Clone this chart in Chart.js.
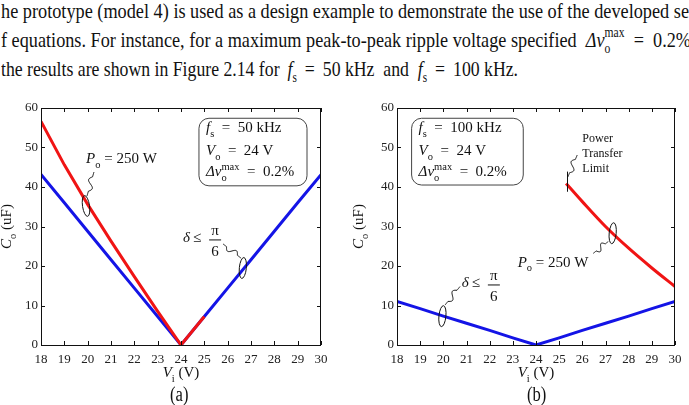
<!DOCTYPE html>
<html>
<head>
<meta charset="utf-8">
<title>Figure 2.14</title>
<script src="https://cdn.jsdelivr.net/npm/chart.js"></script>
<style>
    html, body {
        margin: 0;
        padding: 0;
        width: 689px;
        height: 405px;
        overflow: hidden;
        background: #fff;
    }
    body {
        position: relative;
        font-family: "Liberation Serif", serif;
        color: #111;
    }
    .line {
        position: absolute;
        left: 1px;
        font-size: 22px;
        line-height: 22px;
        white-space: nowrap;
        transform-origin: 0 0;
    }
    .sb { position: relative; top: 6px; font-size: 14px; }
    .sp { position: relative; top: -10px; font-size: 14px; }
    #l1 { top: 0px; }
    #l2 { top: 29px; }
    #l3 { top: 58px; }
    canvas { position: absolute; top: 95px; }
    #chartA { left: 0; }
    #chartB { left: 346px; }
    .cap { position: absolute; top: 384px; font-size: 20px; line-height: 20px; transform-origin: 0 0; }
</style>
</head>
<body>
<div class="line" id="l1">he prototype (model 4) is used as a design example to demonstrate the use of the developed se</div>
<div class="line" id="l2">f equations. For instance, for a maximum peak-to-peak ripple voltage specified &nbsp;<i>Δv</i><span class="sb">o</span><span class="sp" style="margin-left:-7px">max</span>&ensp;=&ensp;0.2%</div>
<div class="line" id="l3">the results are shown in Figure 2.14 for &thinsp;<i>f</i><span class="sb">s</span>&nbsp;&thinsp;=&thinsp;&nbsp;50 kHz&nbsp; and&nbsp; <i>f</i><span class="sb">s</span>&nbsp;&thinsp;=&thinsp;&nbsp;100 kHz.</div>

<canvas id="chartA" width="345" height="300"></canvas>
<canvas id="chartB" width="343" height="300"></canvas>

<div class="cap" style="left:170px">(a)</div>
<div class="cap" style="left:527px">(b)</div>

<script>
// input voltage Vi (V)
const vi = [18, 19, 20, 21, 22, 23, 24, 25, 26, 27, 28, 29, 30];

// (a) fs = 50 kHz : Co (uF)
const coDeltaA = [43.2, 36.0, 28.8, 21.6, 14.4, 7.2, 0, 7.2, 14.4, 21.6, 28.8, 36.0, 43.1];
const viPowerA = [18, 19, 20, 21, 22, 23, 24, 25];
const coPowerA = [56.6, 45.6, 35.6, 26.3, 17.3, 8.5, 0, 7.2];

// (b) fs = 100 kHz : Co (uF)
const coDeltaB = [11.0, 9.2, 7.3, 5.5, 3.7, 1.8, 0, 1.8, 3.7, 5.5, 7.3, 9.2, 11.0];
const viPowerB = [25.3, 26, 27, 28, 29, 30];
const coPowerB = [40.9, 36.3, 30.0, 24.5, 19.5, 14.8];

const RED = '#f01414';
const BLUE = '#1414e6';
const SERIF = '"Liberation Serif", serif';
const EN = '\u2002';

// squeeze the paragraph lines to the widths they have in the scan
(function () {
    const l1 = document.getElementById('l1');
    const s = 688 / l1.getBoundingClientRect().width;
    const widths = { l1: 688, l2: 690, l3: 517 };
    Object.keys(widths).forEach(id => {
        const el = document.getElementById(id);
        el.style.transform = 'scaleX(' + (widths[id] / el.getBoundingClientRect().width) + ')';
    });
    document.querySelectorAll('.cap').forEach(el => {
        el.style.transform = 'scaleX(' + s + ')';
    });
})();

// draw a run of math pieces: {t, i: italic, s: 'b' sub / 'p' sup, back: overlay on previous}
function runMath(ctx, parts, x, y, size, draw) {
    let cx = x, prev = x;
    for (const p of parts) {
        let fs = size, dy = 0;
        if (p.s === 'b') { fs = size * 0.7; dy = size * 0.3; }
        if (p.s === 'p') { fs = size * 0.7; dy = -size * 0.45; }
        ctx.font = (p.i ? 'italic ' : '') + fs + 'px ' + SERIF;
        const start = p.back ? prev : cx;
        if (draw) ctx.fillText(p.t, start, y + dy);
        const w = ctx.measureText(p.t).width;
        prev = start;
        cx = Math.max(cx, start + w);
    }
    return cx - x;
}

function squiggle(ctx, x1, y1, x2, y2, amp) {
    const dx = x2 - x1, dy = y2 - y1, len = Math.hypot(dx, dy);
    const nx = -dy / len, ny = dx / len;
    ctx.beginPath();
    ctx.moveTo(x1, y1);
    for (let k = 1; k <= 40; k++) {
        const t = k / 40;
        const w = (t > 0.2 && t < 0.8) ? Math.sin((t - 0.2) / 0.6 * 2 * Math.PI) * amp : 0;
        ctx.lineTo(x1 + dx * t + nx * w, y1 + dy * t + ny * w);
    }
    ctx.stroke();
}

function roundBox(ctx, x0, y0, x1, y1, r) {
    ctx.beginPath();
    ctx.moveTo(x0 + r, y0);
    ctx.arcTo(x1, y0, x1, y1, r);
    ctx.arcTo(x1, y1, x0, y1, r);
    ctx.arcTo(x0, y1, x0, y0, r);
    ctx.arcTo(x0, y0, x1, y0, r);
    ctx.closePath();
    ctx.fillStyle = '#fff';
    ctx.fill();
    ctx.stroke();
}

function deltaLabel(ctx, x, barY, size) {
    ctx.fillStyle = '#111';
    let w = runMath(ctx, [{ t: 'δ', i: 1 }], x, barY + 2, size, true);
    ctx.font = size + 'px ' + SERIF;
    ctx.fillText('≤', x + w + 3, barY + 2);
    const fx = x + 32;
    ctx.textAlign = 'center';
    ctx.fillText('π', fx, barY - 5);
    ctx.fillText('6', fx, barY + 16);
    ctx.textAlign = 'left';
    ctx.beginPath();
    ctx.moveTo(fx - 6, barY);
    ctx.lineTo(fx + 6, barY);
    ctx.lineWidth = 1;
    ctx.stroke();
}

const boxLines = fs => [
    [{ t: 'f', i: 1 }, { t: 's', s: 'b' }, { t: EN + '=' + EN + fs + ' kHz' }],
    [{ t: 'V', i: 1 }, { t: 'o', s: 'b' }, { t: EN + '=' + EN + '24 V' }],
    [{ t: 'Δv', i: 1 }, { t: 'o', s: 'b' }, { t: 'max', s: 'p', back: 1 }, { t: EN + '=' + EN + '0.2%' }]
];

// annotation layout, in data coordinates
const notes = {
    chartA: {
        yTitleX: 11,
        box: { x0: 24.77, x1: 29.4, y0: 57.4, y1: 40.3, lines: boxLines(50) },
        power: { x: 19.93, y: 47.3 },
        squig: [[20.27, 43.8, 19.97, 37.7], [25.8, 25.6, 26.57, 22.0]],
        ellipses: [[19.93, 35.2, -0.15], [26.65, 19.5, 0.1]],
        delta: { x: 24.09, y: 26.6 }
    },
    chartB: {
        yTitleX: 17,
        box: { x0: 18.63, x1: 23.45, y0: 57.4, y1: 40.5, lines: boxLines(100) },
        power: { x: 23.21, y: 21.1 },
        squig: [[26.47, 23.2, 27.12, 26.2], [20.72, 14.8, 20.07, 10.1], [25.78, 48.1, 25.37, 42.5]],
        ellipses: [[27.31, 28.3, 0.1], [19.96, 7.3, 0.1]],
        delta: { x: 20.8, y: 15.2 },
        limit: { x: 25.32, y0: 43.9, y1: 38.8, tx: 26.0, ty: [52.3, 48.4, 44.5], text: ['Power', 'Transfer', 'Limit'] }
    }
};

const figDecor = {
    id: 'figDecor',
    afterDraw(chart) {
        const ctx = chart.ctx;
        const a = chart.chartArea;
        const xs = chart.scales.x, ys = chart.scales.y;
        const n = notes[chart.canvas.id];
        ctx.save();
        ctx.strokeStyle = '#111';
        ctx.fillStyle = '#111';
        ctx.lineWidth = 1;

        // frame with inward ticks
        ctx.strokeRect(a.left + 0.5, a.top + 0.5, a.right - a.left - 1, a.bottom - a.top);
        ctx.beginPath();
        xs.ticks.forEach(t => {
            const px = Math.round(xs.getPixelForValue(t.value)) + 0.5;
            ctx.moveTo(px, a.bottom); ctx.lineTo(px, a.bottom - 4);
            ctx.moveTo(px, a.top); ctx.lineTo(px, a.top + 4);
        });
        ys.ticks.forEach(t => {
            const py = Math.round(ys.getPixelForValue(t.value)) + 0.5;
            ctx.moveTo(a.left, py); ctx.lineTo(a.left + 4, py);
            ctx.moveTo(a.right, py); ctx.lineTo(a.right - 4, py);
        });
        ctx.stroke();

        const X = v => xs.getPixelForValue(v);
        const Y = v => ys.getPixelForValue(v);

        // axis titles
        const xt = [{ t: 'V', i: 1 }, { t: 'i', s: 'b' }, { t: ' (V)' }];
        const xw = runMath(ctx, xt, 0, 0, 15, false);
        runMath(ctx, xt, (a.left + a.right) / 2 - xw / 2, a.bottom + 32, 15, true);
        const yt = [{ t: 'C', i: 1 }, { t: 'o', s: 'b' }, { t: ' (uF)' }];
        const yw = runMath(ctx, yt, 0, 0, 15, false);
        ctx.save();
        ctx.translate(n.yTitleX, (a.top + a.bottom) / 2);
        ctx.rotate(-Math.PI / 2);
        runMath(ctx, yt, -yw / 2, 0, 15, true);
        ctx.restore();

        // parameter box
        const b = n.box;
        ctx.strokeStyle = '#444';
        roundBox(ctx, X(b.x0), Y(b.y0), X(b.x1), Y(b.y1), 10);
        ctx.fillStyle = '#111';
        [14, 37, 58].forEach((dy, i) => runMath(ctx, b.lines[i], X(b.x0) + 7, Y(b.y0) + dy, 15, true));

        // squiggles and ellipses
        ctx.strokeStyle = '#111';
        ctx.lineWidth = 1;
        n.squig.forEach(s => squiggle(ctx, X(s[0]), Y(s[1]), X(s[2]), Y(s[3]), 3));
        n.ellipses.forEach(e => {
            ctx.beginPath();
            ctx.ellipse(X(e[0]), Y(e[1]), 3.5, 10.5, e[2], 0, 2 * Math.PI);
            ctx.stroke();
        });

        runMath(ctx, [{ t: 'P', i: 1 }, { t: 'o', s: 'b' }, { t: ' = 250 W' }], X(n.power.x), Y(n.power.y) + 5, 15, true);
        deltaLabel(ctx, X(n.delta.x), Y(n.delta.y), 15);

        if (n.limit) {
            const L = n.limit;
            ctx.beginPath();
            ctx.moveTo(Math.round(X(L.x)) + 0.5, Y(L.y0));
            ctx.lineTo(Math.round(X(L.x)) + 0.5, Y(L.y1));
            ctx.stroke();
            ctx.font = '12px ' + SERIF;
            ctx.textBaseline = 'middle';
            L.text.forEach((t, i) => ctx.fillText(t, X(L.tx), Y(L.ty[i])));
            ctx.textBaseline = 'alphabetic';
        }
        ctx.restore();
    }
};

function series(xv, yv, color) {
    return {
        data: xv.map((v, i) => ({ x: v, y: yv[i] })),
        borderColor: color,
        borderWidth: 3,
        pointRadius: 0,
        fill: false,
        tension: 0
    };
}

function makeChart(id, datasets, yWidth, rightPad) {
    const tickFont = { family: SERIF, size: 13 };
    return new Chart(document.getElementById(id), {
        type: 'line',
        data: { datasets: datasets },
        options: {
            responsive: false,
            animation: false,
            layout: { padding: { left: 0, right: rightPad, top: 13, bottom: 0 } },
            plugins: { legend: { display: false }, tooltip: { enabled: false } },
            scales: {
                x: {
                    type: 'linear', min: 18, max: 30,
                    grid: { display: false, drawTicks: false }, border: { display: false },
                    ticks: { stepSize: 1, font: tickFont, color: '#222', padding: 7, maxRotation: 0 },
                    afterFit(s) { s.height = 50; }
                },
                y: {
                    min: 0, max: 60,
                    grid: { display: false, drawTicks: false }, border: { display: false },
                    ticks: { stepSize: 10, font: tickFont, color: '#222', padding: 3 },
                    afterFit(s) { s.width = yWidth; }
                }
            }
        },
        plugins: [figDecor]
    });
}

makeChart('chartA', [
    series(viPowerA, coPowerA, RED),
    series(vi, coDeltaA, BLUE)
], 41, 24);

const red = series(viPowerB, coPowerB, RED);
red.cubicInterpolationMode = 'monotone';
makeChart('chartB', [
    red,
    series(vi, coDeltaB, BLUE)
], 51, 14);
</script>
</body>
</html>
